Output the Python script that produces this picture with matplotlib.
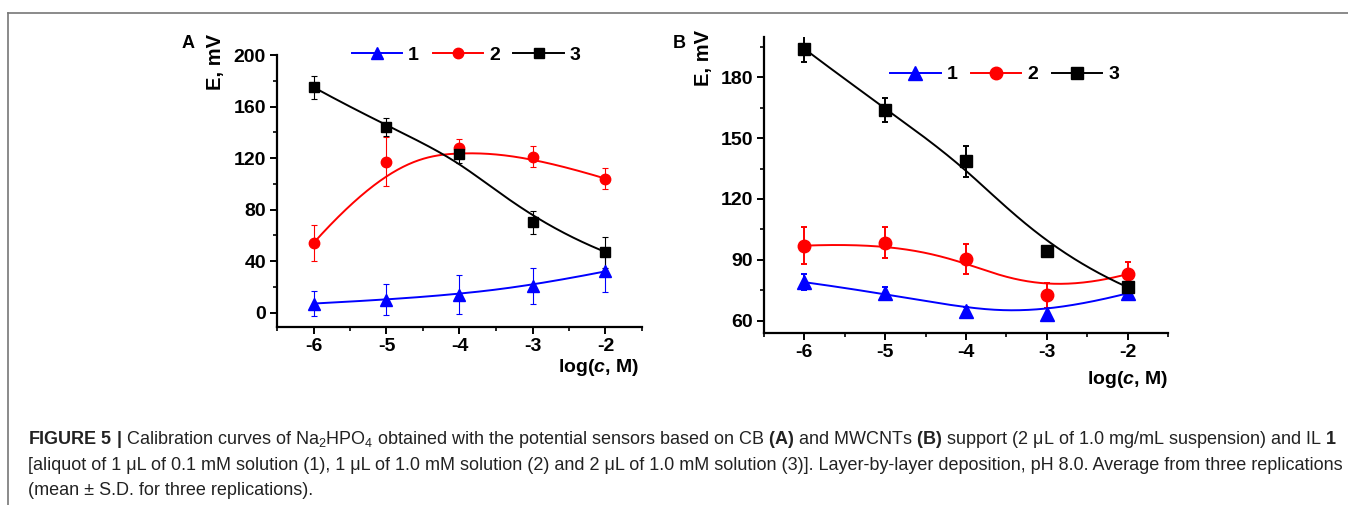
import numpy as np
import matplotlib
matplotlib.use("Agg")
import matplotlib.pyplot as plt
from matplotlib.ticker import MultipleLocator
from matplotlib.lines import Line2D

plt.rcParams["font.family"] = ["Liberation Sans", "DejaVu Sans"]
plt.rcParams["mathtext.fontset"] = "custom"
plt.rcParams["mathtext.rm"] = "Liberation Sans"
plt.rcParams["mathtext.it"] = "Liberation Sans:italic"
plt.rcParams["mathtext.bf"] = "Liberation Sans:bold"
plt.rcParams["mathtext.bfit"] = "Liberation Sans:italic:bold"

# ---- data ----
logc = [-6, -5, -4, -3, -2]

a_e1 = [7, 10, 14, 21, 32]
a_s1 = [10, 12, 15, 14, 16]
a_e2 = [54, 117, 128, 121, 104]
a_s2 = [14, 19, 7, 8, 8]
a_e3 = [175, 144, 123, 70, 47]
a_s3 = [9, 7, 7, 9, 12]

b_e1 = [79, 73.5, 65, 63.5, 73.5]
b_s1 = [4, 3, 2, 3, 3]
b_e2 = [97, 98.5, 90.5, 72.5, 83]
b_s2 = [9, 7.5, 7.5, 6, 6]
b_e3 = [194, 164, 138.5, 94.5, 76.5]
b_s3 = [6.5, 6, 7.5, 2.5, 6.5]

labels = ["1", "2", "3"]
colors = ["#0000FF", "#FF0000", "#000000"]
markers = ["^", "o", "s"]


def bspline(xs, ys, n=300):
    # clamped cubic B-spline with the data points as control points (Origin "B-Spline" style)
    P = np.column_stack([xs, ys]).astype(float)
    k = 3
    m = len(P)
    inner = np.linspace(0, 1, m - k + 1)
    knots = np.concatenate([[0] * k, inner, [1] * k])
    ts = np.linspace(0, 1, n)
    out = []
    for t in ts:
        if t >= 1:
            out.append(P[-1]); continue
        s = np.searchsorted(knots, t, side="right") - 1
        d = [P[j + s - k].copy() for j in range(k + 1)]
        for r in range(1, k + 1):
            for j in range(k, r - 1, -1):
                i = j + s - k
                a = (t - knots[i]) / (knots[i + k + 1 - r] - knots[i])
                d[j] = (1 - a) * d[j - 1] + a * d[j]
        out.append(d[k])
    out = np.array(out)
    return out[:, 0], out[:, 1]


fig = plt.figure(figsize=(13.48, 5.05), dpi=100)

# outer frame (top + left rule)
fig.add_artist(Line2D([8 / 1348, 8 / 1348], [0, 1 - 13 / 505], color="#777777", lw=1.2))
fig.add_artist(Line2D([8 / 1348, 1], [1 - 13 / 505, 1 - 13 / 505], color="#777777", lw=1.2))


def panel(rect, series, ylim, ymaj, ymin, ms, errlw, capsz, leg_anchor, letter_xy, ylab_xy, xlab_xy):
    ax = fig.add_axes(rect)
    for (e, s), lab, c, mk, m in zip(series, labels, colors, markers, ms):
        ax.errorbar(logc, e, yerr=s, fmt="none", ecolor=c, elinewidth=errlw,
                    capsize=capsz, capthick=errlw, zorder=2)
        sx, sy = bspline(logc, e)
        ax.plot(sx, sy, color=c, lw=1.4, zorder=3)
        ax.plot(logc, e, ls="none", marker=mk, ms=m, color=c, zorder=4)
    ax.set_xlim(-6.5, -1.5)
    ax.set_ylim(*ylim)
    ax.xaxis.set_major_locator(MultipleLocator(1))
    ax.xaxis.set_minor_locator(MultipleLocator(0.5))
    ax.yaxis.set_major_locator(MultipleLocator(ymaj))
    ax.yaxis.set_minor_locator(MultipleLocator(ymin))
    for sp in ("top", "right"):
        ax.spines[sp].set_visible(False)
    for sp in ("left", "bottom"):
        ax.spines[sp].set_linewidth(1.6)
    ax.tick_params(which="major", direction="out", length=5, width=1.4, labelsize=14, pad=3)
    ax.tick_params(which="minor", direction="out", length=3, width=1.2)
    for t in ax.get_xticklabels() + ax.get_yticklabels():
        t.set_fontweight("bold")
    ax.set_xticks(logc)
    ax.set_xticklabels([str(v) for v in logc], fontweight="bold")

    handles = [Line2D([], [], color=c, marker=mk, ms=m, lw=1.4)
               for c, mk, m in zip(colors, markers, ms)]
    ax.legend(handles, labels, ncol=3, loc="center left", bbox_to_anchor=leg_anchor,
              frameon=False, prop={"weight": "bold", "size": 14}, handlelength=2.6,
              handletextpad=0.3, columnspacing=0.7, borderpad=0, borderaxespad=0)

    fig.text(letter_xy[0] / 1348, 1 - letter_xy[1] / 505, letter_xy[2], fontsize=13,
             fontweight="bold", ha="center", va="center")
    fig.text(ylab_xy[0] / 1348, 1 - ylab_xy[1] / 505, "E, mV", fontsize=14.5, fontweight="bold",
             rotation=90, ha="center", va="center")
    fig.text(xlab_xy[0] / 1348, 1 - xlab_xy[1] / 505, r"log($\mathbfit{c}$, M)", fontsize=14,
             fontweight="bold", ha="right", va="center")
    return ax


panel([277 / 1348, 1 - 327 / 505, 365 / 1348, 272 / 505],
      [(a_e1, a_s1), (a_e2, a_s2), (a_e3, a_s3)], (-11.2, 200), 40, 20,
      [8.5, 7.5, 6.5], 0.8, 2.5, (0.205, 1.0), (188, 44, "A"), (215, 62), (639, 368))

panel([764 / 1348, 1 - 333.3 / 505, 404 / 1348, 296.6 / 505],
      [(b_e1, b_s1), (b_e2, b_s2), (b_e3, b_s3)], (53.8, 200), 30, 15,
      [9.5, 9, 8], 1.4, 2.5, (0.312, 0.872), (679, 44, "B"), (703, 58), (1168, 380))

# ---- caption ----
cap = [
    r"$\mathbf{FIGURE\ 5\ |}$ Calibration curves of Na$_2$HPO$_4$ obtained with the potential sensors "
    r"based on CB $\mathbf{(A)}$ and MWCNTs $\mathbf{(B)}$ support (2 μL of 1.0 mg/mL suspension) and IL $\mathbf{1}$",
    "[aliquot of 1 μL of 0.1 mM solution (1), 1 μL of 1.0 mM solution (2) and 2 μL of 1.0 mM solution (3)]. "
    "Layer-by-layer deposition, pH 8.0. Average from three replications",
    "(mean ± S.D. for three replications).",
]
for line, yb in zip(cap, [444, 470, 495]):
    fig.text(28 / 1348, 1 - yb / 505, line, fontsize=13, color="#222222", ha="left", va="baseline")

fig.savefig("out.png", dpi=100, facecolor="white")
